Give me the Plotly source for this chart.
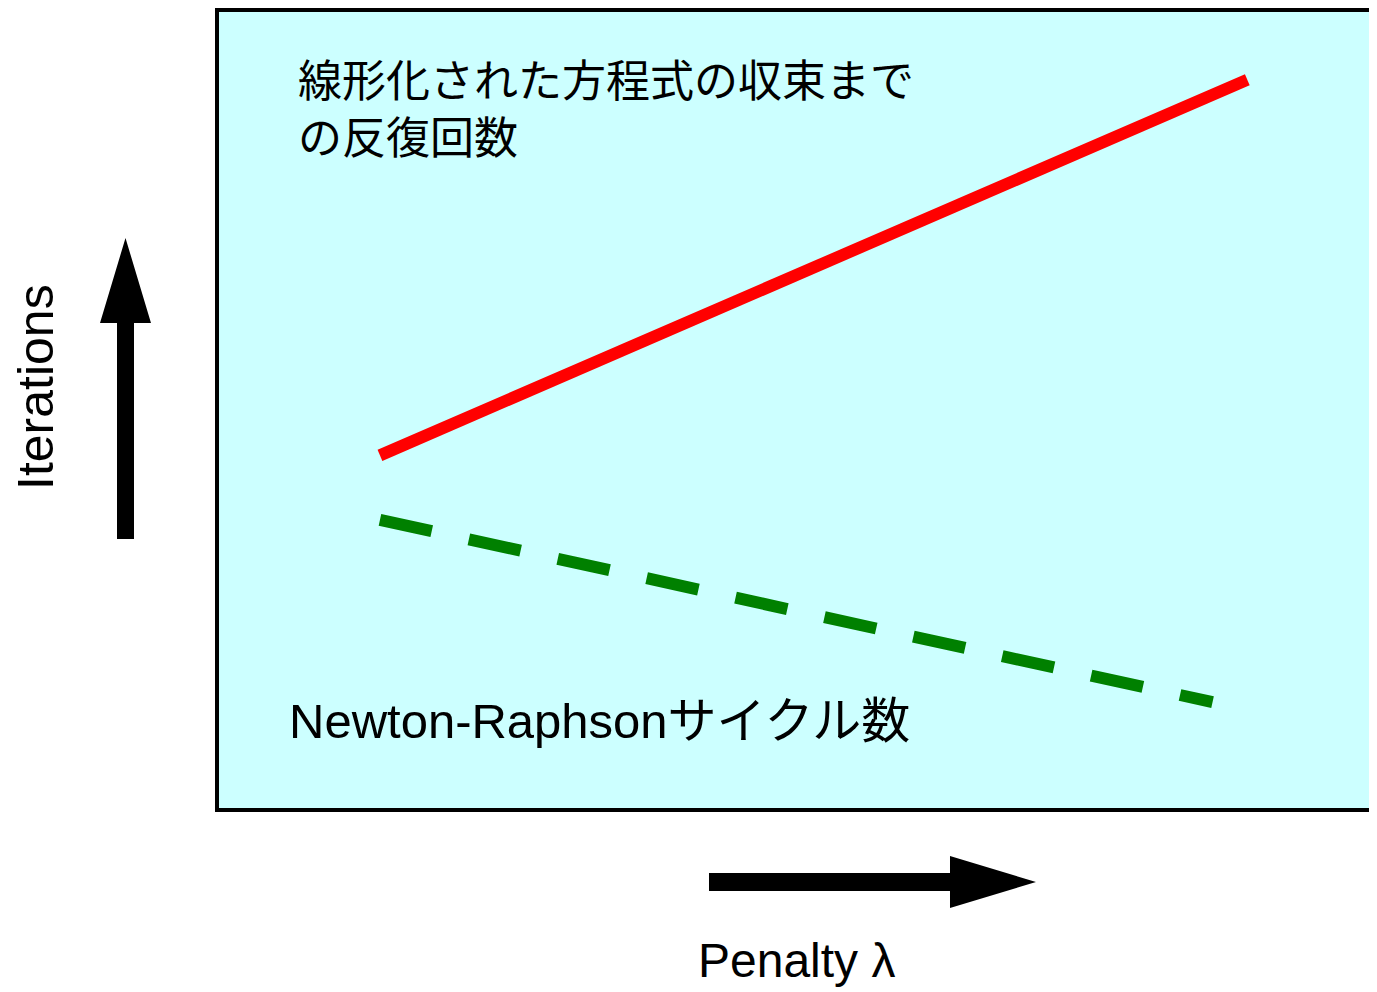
import plotly.graph_objects as go

# ---- data (abstract units) ----
lin_x = [1.39, 8.88]          # penalty (arbitrary units)
lin_y = [4.43, 9.15]          # iterations for linearized equations
nr_x = [1.39, 8.58]
nr_y = [3.62, 1.33]           # Newton-Raphson cycles

label_lin = "線形化された方程式の収束まで<br>の反復回数"
label_nr = "Newton-Raphsonサイクル数"
xlabel = "Penalty λ"
ylabel = "Iterations"

OFF = 8                      # page body margin in the browser
W, H = 1377 - OFF, 992 - OFF
L, T = 219 - OFF, 12 - OFF
BOT = 808 - OFF              # inner bottom edge of the plot area (figure px)
B = H - BOT
PW, PH = W - L, BOT - T

def px(x):
    return (x - OFF - L) / PW

def py(y):
    return (BOT - (y - OFF)) / PH

def poly(points):
    return "M " + " L ".join(f"{px(a):.5f},{py(b):.5f}" for a, b in points) + " Z"

fig = go.Figure()
fig.add_trace(go.Scatter(x=lin_x, y=lin_y, mode="lines",
                         line=dict(color="#FF0000", width=12), showlegend=False))
fig.add_trace(go.Scatter(x=nr_x, y=nr_y, mode="lines",
                         line=dict(color="#008000", width=12, dash="53px,38px"),
                         showlegend=False))

jp = "Noto Sans CJK JP"
lat = "Liberation Sans, Arial, Noto Sans CJK JP"

annotations = [
    dict(x=px(296), y=py(106), xref="paper", yref="paper", text=label_lin,
         showarrow=False, xanchor="left", yanchor="middle", align="left",
         font=dict(family=jp, size=44, color="black")),
    dict(x=px(287), y=py(721), xref="paper", yref="paper", text=label_nr,
         showarrow=False, xanchor="left", yanchor="middle",
         font=dict(family=lat, size=49, color="black")),
    dict(x=px(696), y=py(960), xref="paper", yref="paper", text=xlabel,
         showarrow=False, xanchor="left", yanchor="middle",
         font=dict(family=lat, size=48, color="black")),
    dict(x=px(36), y=py(387), xref="paper", yref="paper", text=ylabel,
         showarrow=False, xanchor="center", yanchor="middle", textangle=-90,
         font=dict(family=lat, size=50, color="black")),
]

shapes = [
    dict(type="path", xref="paper", yref="paper",
         path=poly([(117, 539), (134, 539), (134, 323), (151, 323),
                    (125.5, 238), (100, 323), (117, 323)]),
         fillcolor="black", line=dict(width=0)),
    dict(type="path", xref="paper", yref="paper",
         path=poly([(709, 873), (950, 873), (950, 856), (1036, 882),
                    (950, 908), (950, 891), (709, 891)]),
         fillcolor="black", line=dict(width=0)),
]

fig.update_layout(
    width=W, height=H,
    margin=dict(l=L, r=0, t=T, b=B, pad=0),
    paper_bgcolor="white",
    plot_bgcolor="#CCFFFF",
    annotations=annotations,
    shapes=shapes,
    xaxis=dict(range=[0, 10], showgrid=False, zeroline=False, showticklabels=False,
               ticks="", showline=True, mirror=True, linewidth=4, linecolor="black",
               fixedrange=True),
    yaxis=dict(range=[0, 10], showgrid=False, zeroline=False, showticklabels=False,
               ticks="", showline=True, mirror=False, linewidth=4, linecolor="black",
               fixedrange=True),
)

fig.write_html("out.html", config={"displayModeBar": False})
